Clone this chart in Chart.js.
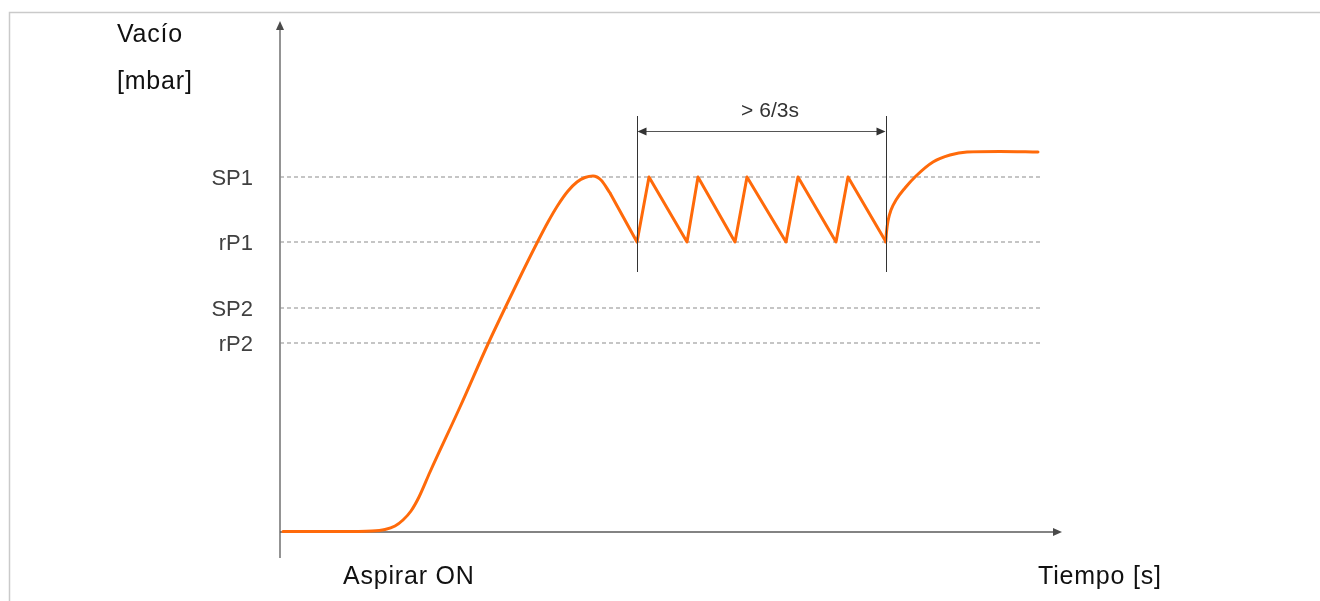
<!DOCTYPE html>
<html>
<head>
<meta charset="utf-8">
<script src="https://cdn.jsdelivr.net/npm/chart.js@4.4.1/dist/chart.umd.min.js"></script>
<style>
  html, body { margin: 0; padding: 0; background: #ffffff; }
  #wrap { width: 1320px; height: 601px; position: relative; }
</style>
</head>
<body>
<div id="wrap"><canvas id="c" width="1320" height="601"></canvas></div>
<script>
// ---- data (arbitrary units: x = time, y = vacuum) ----
const levelLabels = ['SP1', 'rP1', 'SP2', 'rP2'];
const levelValues = [355, 290, 224, 189];
const levelLineEndX = 760;

const riseX = [3, 60, 92, 105, 115, 123, 131, 139, 150, 180, 208, 226, 242, 258, 268, 278, 288, 297, 305, 313, 321, 330];
const riseY = [0.5, 0.5, 1, 2.5, 6, 12, 21, 35, 60, 125, 188, 226, 259, 291, 310, 327, 341, 350, 354.5, 356, 352, 339];

const sawX = [330, 357, 369, 407, 418, 455, 467, 506, 518, 556, 568, 606];
const sawY = [339, 290, 355, 290, 355, 290, 355, 290, 355, 290, 355, 290];

const recoverX = [605.7, 606.5, 608, 611, 616, 625, 636, 653, 670, 687, 720, 758];
const recoverY = [290, 300, 311, 322, 332, 344, 356, 370, 377, 380, 380.5, 380];

const bracketX = [356.5, 605.5];
const bracketYRange = [260, 416];
const bracketArrowY = 400.5;
const bracketText = '> 6/3s';
const bracketTextX = 490;

const yAxisTitle = ['Vacío', '[mbar]'];
const xAxisLabels = ['Aspirar ON', 'Tiempo [s]'];

const xMax = 900, yMax = 512;
const xAxisEnd = 782, yAxisBottom = -26;

const pts = (xs, ys) => xs.map((x, i) => ({ x: x, y: ys[i] }));
const ORANGE = '#ff6a0a';

const datasets = [
  { data: pts(riseX, riseY), borderColor: ORANGE, borderWidth: 3, cubicInterpolationMode: 'monotone', pointRadius: 0, clip: false, borderCapStyle: 'round', borderJoinStyle: 'round' },
  { data: pts(sawX, sawY), borderColor: ORANGE, borderWidth: 3, tension: 0, pointRadius: 0, clip: false, borderJoinStyle: 'round' },
  { data: pts(recoverX, recoverY), borderColor: ORANGE, borderWidth: 3, cubicInterpolationMode: 'monotone', pointRadius: 0, clip: false, borderCapStyle: 'round', borderJoinStyle: 'round' }
];
levelValues.forEach(v => {
  datasets.push({ data: [{ x: 0, y: v }, { x: levelLineEndX, y: v }], borderColor: '#8c8c8c', borderWidth: 1.2, borderDash: [4, 3], pointRadius: 0, tension: 0, clip: false });
});

function arrowHead(ctx, tx, ty, dx, dy, len, half) {
  const px = -dy, py = dx;
  ctx.beginPath();
  ctx.moveTo(tx, ty);
  ctx.lineTo(tx - dx * len + px * half, ty - dy * len + py * half);
  ctx.lineTo(tx - dx * len - px * half, ty - dy * len - py * half);
  ctx.closePath();
  ctx.fill();
}

const decor = {
  id: 'decor',
  beforeDatasetsDraw(chart) {
    const ctx = chart.ctx, xs = chart.scales.x, ys = chart.scales.y;
    ctx.save();
    // frame
    ctx.strokeStyle = '#cacaca';
    ctx.lineWidth = 1.5;
    ctx.beginPath();
    ctx.moveTo(9.5, 601); ctx.lineTo(9.5, 12.5); ctx.lineTo(1320, 12.5);
    ctx.stroke();
    // axes
    const x0 = xs.getPixelForValue(0), y0 = ys.getPixelForValue(0);
    const yTop = ys.getPixelForValue(yMax) + 1;
    const xEnd = xs.getPixelForValue(xAxisEnd);
    ctx.strokeStyle = '#5a5a5a';
    ctx.fillStyle = '#4a4a4a';
    ctx.lineWidth = 1.3;
    ctx.beginPath();
    ctx.moveTo(x0, ys.getPixelForValue(yAxisBottom));
    ctx.lineTo(x0, yTop + 6);
    ctx.stroke();
    arrowHead(ctx, x0, yTop, 0, -1, 9, 4);
    ctx.beginPath();
    ctx.moveTo(x0, y0);
    ctx.lineTo(xEnd - 6, y0);
    ctx.stroke();
    arrowHead(ctx, xEnd, y0, 1, 0, 9, 4);
    ctx.restore();
  },
  afterDatasetsDraw(chart) {
    const ctx = chart.ctx, xs = chart.scales.x, ys = chart.scales.y;
    ctx.save();
    // bracket
    const bx0 = xs.getPixelForValue(bracketX[0]), bx1 = xs.getPixelForValue(bracketX[1]);
    const by0 = ys.getPixelForValue(bracketYRange[0]), by1 = ys.getPixelForValue(bracketYRange[1]);
    const ay = ys.getPixelForValue(bracketArrowY);
    ctx.strokeStyle = '#333333';
    ctx.lineWidth = 1;
    ctx.beginPath();
    ctx.moveTo(Math.round(bx0) + 0.5, by0); ctx.lineTo(Math.round(bx0) + 0.5, by1);
    ctx.moveTo(Math.round(bx1) + 0.5, by0); ctx.lineTo(Math.round(bx1) + 0.5, by1);
    ctx.stroke();
    ctx.strokeStyle = '#555555';
    ctx.fillStyle = '#333333';
    ctx.beginPath();
    ctx.moveTo(bx0 + 6, ay); ctx.lineTo(bx1 - 6, ay);
    ctx.stroke();
    arrowHead(ctx, bx0 + 1, ay, -1, 0, 9, 4);
    arrowHead(ctx, bx1, ay, 1, 0, 9, 4);
    ctx.font = '21px "Liberation Sans", Arial, sans-serif';
    ctx.fillStyle = '#333333';
    ctx.textAlign = 'center';
    ctx.textBaseline = 'alphabetic';
    ctx.fillText(bracketText, xs.getPixelForValue(bracketTextX), 117);
    // titles
    ctx.font = '25px "Liberation Sans", Arial, sans-serif';
    try { ctx.letterSpacing = '0.8px'; } catch (e) {}
    ctx.fillStyle = '#111111';
    ctx.textAlign = 'left';
    ctx.fillText(yAxisTitle[0], 117, 42);
    ctx.fillText(yAxisTitle[1], 117, 89);
    ctx.fillText(xAxisLabels[0], 343, 584);
    ctx.fillText(xAxisLabels[1], 1038, 584);
    ctx.restore();
  }
};

new Chart(document.getElementById('c'), {
  type: 'line',
  data: { datasets: datasets },
  options: {
    responsive: false,
    animation: false,
    layout: { padding: { left: 180, right: 140, top: 20, bottom: 69 } },
    plugins: { legend: { display: false }, tooltip: { enabled: false } },
    scales: {
      x: { type: 'linear', min: 0, max: xMax, display: false },
      y: {
        type: 'linear', min: 0, max: yMax,
        grid: { display: false, drawTicks: false },
        border: { display: false },
        afterBuildTicks(scale) { scale.ticks = levelValues.map(v => ({ value: v })); },
        afterFit(scale) { scale.width = 100; scale.paddingTop = 0; scale.paddingBottom = 0; },
        ticks: {
          autoSkip: false,
          padding: 27,
          labelOffset: 2,
          color: '#404040',
          font: { family: '"Liberation Sans", Arial, sans-serif', size: 22 },
          callback(value) { const i = levelValues.indexOf(value); return i >= 0 ? levelLabels[i] : ''; }
        }
      }
    }
  },
  plugins: [decor]
});
</script>
</body>
</html>
